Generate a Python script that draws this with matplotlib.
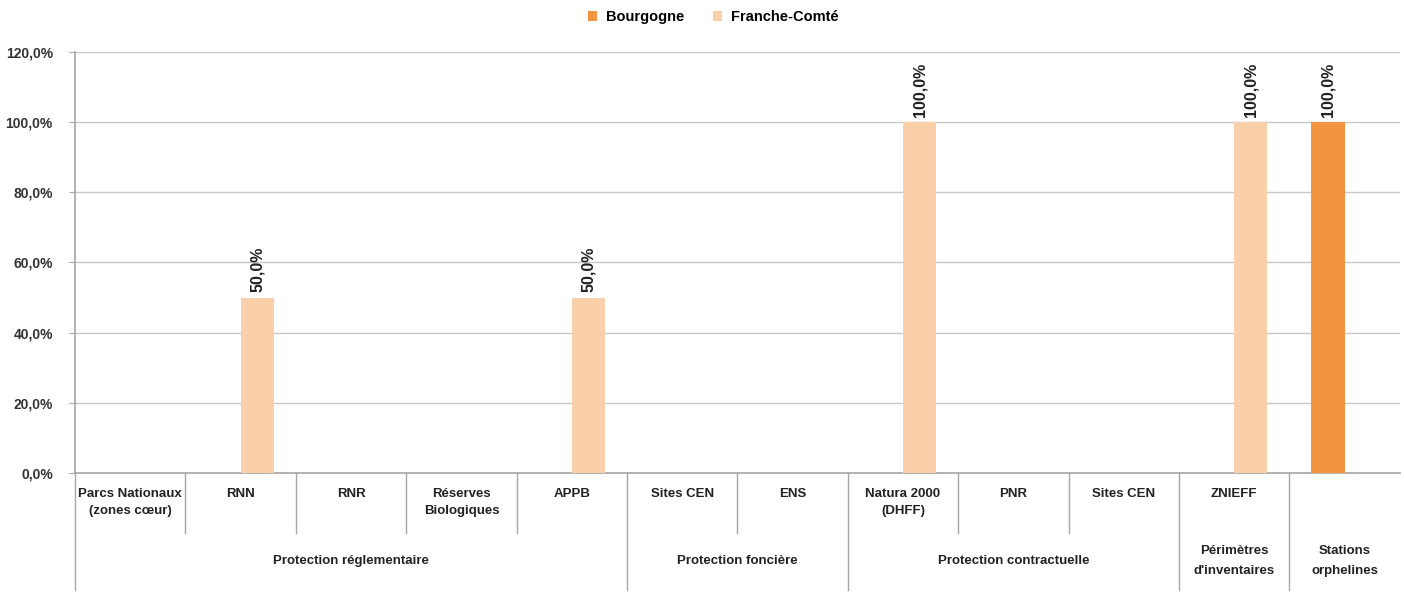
import matplotlib.pyplot as plt
import matplotlib.transforms as mtransforms
import numpy as np

plt.rcParams['font.family'] = ['Liberation Sans', 'DejaVu Sans']

categories = ['Parcs Nationaux\n(zones cœur)', 'RNN', 'RNR', 'Réserves\nBiologiques', 'APPB',
              'Sites CEN', 'ENS', 'Natura 2000\n(DHFF)', 'PNR', 'Sites CEN', 'ZNIEFF', '']
group_names = ['Protection réglementaire', 'Protection foncière', 'Protection contractuelle',
               "Périmètres\nd'inventaires", 'Stations\norphelines']
group_sizes = [5, 2, 3, 1, 1]
bourgogne = [0, 0, 0, 0, 0, 0, 0, 0, 0, 0, 0, 100]
franche_comte = [0, 50, 0, 0, 50, 0, 0, 100, 0, 0, 100, 0]

c_bourg = '#F39440'
c_fc = '#FAD0AB'
grid_c = '#C8C8C8'
axis_c = '#A6A6A6'
txt_c = '#222222'

fig = plt.figure(figsize=(14.04, 5.93), dpi=100)
ax = fig.add_axes([0.0534, 0.2024, 0.9436, 0.7099])

x = np.arange(len(categories))
w = 0.3
b1 = ax.bar(x - w / 2, bourgogne, w, color=c_bourg, label='Bourgogne', zorder=3)
b2 = ax.bar(x + w / 2, franche_comte, w, color=c_fc, label='Franche-Comté', zorder=3)

for bars, vals in ((b1, bourgogne), (b2, franche_comte)):
    for r, v in zip(bars, vals):
        if v > 0:
            ax.annotate(f'{v:.1f}%'.replace('.', ','), (r.get_x() + r.get_width() / 2, v),
                        xytext=(0, 4), textcoords='offset points', rotation=90,
                        ha='center', va='bottom', fontsize=11.5, fontweight='bold',
                        color=txt_c)

ax.set_xlim(-0.5, len(categories) - 0.5)
ax.set_ylim(0, 120)
ax.set_yticks(np.arange(0, 121, 20))
ax.set_yticklabels([f'{v:.1f}%'.replace('.', ',') for v in np.arange(0, 121, 20)],
                   fontsize=10, fontweight='bold', color='#333333')
ax.tick_params(axis='y', length=4, color=axis_c, pad=12)
ax.set_xticks([])
ax.yaxis.grid(True, color=grid_c, linewidth=1, zorder=0)
for s in ('top', 'right', 'bottom'):
    ax.spines[s].set_visible(False)
ax.spines['left'].set_color(axis_c)
ax.spines['left'].set_linewidth(1.2)

# multi-level category axis
trans = mtransforms.blended_transform_factory(ax.transData, ax.transAxes)
inner_bot = -0.1425
outer_bot = -0.278
ax.plot([-0.5, len(categories) - 0.5], [0, 0], transform=trans, color=axis_c, lw=1.2, clip_on=False)

bounds = np.cumsum([0] + group_sizes) - 0.5
for b in bounds[:-1]:
    ax.plot([b, b], [0, outer_bot], transform=trans, color=axis_c, lw=1, clip_on=False)
for i in range(1, len(categories)):
    edge = i - 0.5
    if edge not in bounds:
        ax.plot([edge, edge], [0, inner_bot], transform=trans, color=axis_c, lw=1, clip_on=False)

for i, lab in enumerate(categories):
    ax.text(i, -0.035, lab, transform=trans, ha='center', va='top', fontsize=9.5,
            fontweight='bold', color=txt_c, linespacing=1.6)

for name, lo, hi in zip(group_names, bounds[:-1], bounds[1:]):
    two = '\n' in name
    ax.text((lo + hi) / 2, -0.17 if two else -0.208, name, transform=trans, ha='center',
            va='top' if two else 'center', fontsize=9.5, fontweight='bold', color=txt_c,
            linespacing=1.95)

fig.legend(handles=[b1, b2], loc='upper center', bbox_to_anchor=(0.508, 1.005), ncol=2,
           frameon=False, handlelength=0.6, handleheight=0.6,
           columnspacing=2.0, handletextpad=0.6, prop={'weight': 'bold', 'size': 10.5})

fig.savefig('out.png', dpi=100)
